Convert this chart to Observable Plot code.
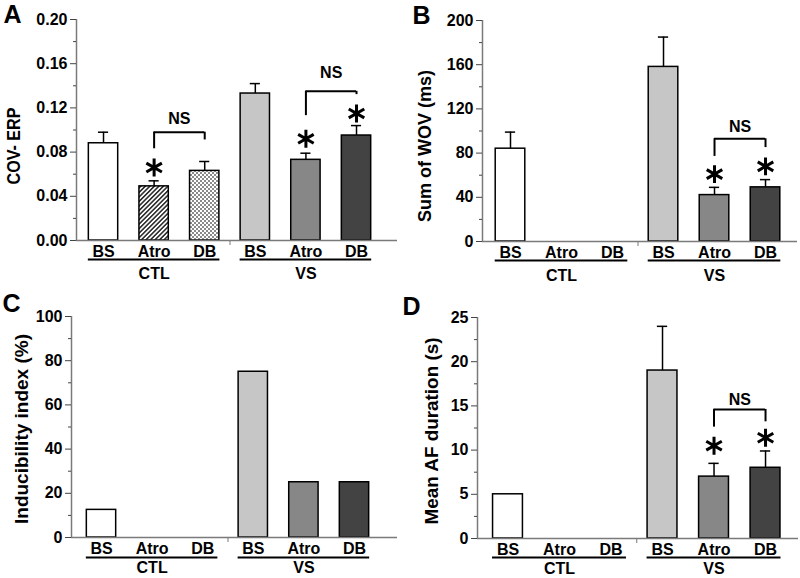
<!DOCTYPE html>
<html>
<head>
<meta charset="utf-8">
<script src="https://cdn.jsdelivr.net/npm/d3@7"></script>
<script src="https://cdn.jsdelivr.net/npm/@observablehq/plot@0.6"></script>
<style>
  html, body { margin: 0; padding: 0; background: white; }
  #chart { position: relative; width: 800px; height: 578px; overflow: hidden; }
  .panel { position: absolute; }
</style>
</head>
<body>
<div id="chart"></div>
<script>
// ---------- data ----------
const conditions = ["BS", "Atro", "DB", "BS", "Atro", "DB"];
const groupNames = ["CTL", "VS"];

const covErpMean = [0.088, 0.049, 0.063, 0.133, 0.073, 0.095];
const covErpSem  = [0.010, 0.005, 0.0085, 0.009, 0.006, 0.009];

const wovMean = [84, null, null, 158, 42, 49];
const wovSem  = [15, null, null, 27, 7, 7];

const inducibility = [12.5, null, null, 75, 25, 25];

const afDurMean = [5, null, null, 19, 7, 8];
const afDurSem  = [null, null, null, 5, 1.5, 1.9];

// significance annotations (value units)
const covErpBrackets = [
  {from: 2, to: 3, top: 0.098, leftEnd: 0.083, rightEnd: 0.091, labelAt: 0.110},
  {from: 5, to: 6, top: 0.135, leftEnd: 0.113, rightEnd: 0.132, labelAt: 0.152}
];
const covErpStars = [{i: 2, at: 0.066}, {i: 5, at: 0.092}, {i: 6, at: 0.115}];

const wovBrackets = [{from: 5, to: 6, top: 93, leftEnd: 77, rightEnd: 85, labelAt: 104}];
const wovStars = [{i: 5, at: 61}, {i: 6, at: 68}];

const afBrackets = [{from: 5, to: 6, top: 14.6, leftEnd: 12.6, rightEnd: 13.2, labelAt: 15.7}];
const afStars = [{i: 5, at: 10.5}, {i: 6, at: 11.4}];

// ---------- styles ----------
const barFills = ["white", "url(#hatchA)", "url(#checkA)", "#c6c6c6", "#878787", "#434343"];
const FONT = "'Liberation Sans', Arial, sans-serif";
const AXIS_GRAY = "#7a7a7a";
const LABEL_SIZE = 16;

function panel(cfg) {
  const hw = 0.29;
  const bars = conditions.map((c, k) => ({i: k + 1, cond: c, v: cfg.values[k], s: cfg.sems ? cfg.sems[k] : null, fill: barFills[k]}))
    .filter(d => d.v != null);
  const errs = bars.filter(d => d.s != null);
  const cats = conditions.map((c, k) => ({i: k + 1, cond: c}));
  const groups = groupNames.map((g, k) => ({name: g, c: 2 + 3 * k}));
  const brackets = cfg.brackets || [];
  const stars = cfg.stars || [];
  const y0 = cfg.yDomain[0];

  const svg = Plot.plot({
    width: 400,
    height: cfg.height,
    marginLeft: cfg.marginLeft,
    marginRight: cfg.marginRight,
    marginTop: cfg.marginTop,
    marginBottom: cfg.marginBottom,
    x: {type: "linear", domain: cfg.xDomain, axis: null},
    y: {domain: cfg.yDomain, axis: null},
    color: {type: "identity"},
    style: {fontFamily: FONT, fontSize: LABEL_SIZE + "px", fontWeight: "bold", color: "black", background: "white", overflow: "visible"},
    marks: [
      // bars
      Plot.rect(bars, {x1: d => d.i - hw, x2: d => d.i + hw, y1: y0, y2: "v", fill: "fill", stroke: "black", strokeWidth: 1.5}),
      // error bars
      Plot.ruleX(errs, {x: "i", y1: "v", y2: d => d.v + d.s, stroke: "black", strokeWidth: 1.5}),
      Plot.ruleY(errs, {y: d => d.v + d.s, x1: d => d.i - 0.1, x2: d => d.i + 0.1, stroke: "black", strokeWidth: 1.5}),
      // axes lines
      Plot.ruleY([y0], {stroke: AXIS_GRAY, strokeWidth: 1.5}),
      Plot.ruleX([cfg.xDomain[0]], {stroke: AXIS_GRAY, strokeWidth: 1.5}),
      Plot.axisY({ticks: cfg.yTicks, tickSize: 6, tickPadding: 3, tickFormat: cfg.tickFormat, label: null, fontSize: LABEL_SIZE, fontWeight: "bold", stroke: "#444"}),
      Plot.axisY({ticks: cfg.yMinor, tickSize: 3, tickFormat: () => "", label: null, stroke: "#444"}),
      Plot.axisX({ticks: [3.5], tickSize: 5, tickFormat: () => "", label: null, stroke: AXIS_GRAY}),
      // category labels
      Plot.text(cats, {x: "i", y: y0, dy: 11, text: "cond", fontSize: LABEL_SIZE, fontWeight: "bold", lineAnchor: "middle"}),
      Plot.ruleY(groups, {y: y0, x1: d => d.c - 1.3, x2: d => d.c + 1.3, dy: cfg.underlineDy, stroke: "black", strokeWidth: 2}),
      Plot.text(groups, {x: "c", y: y0, dy: cfg.groupDy, text: "name", fontSize: LABEL_SIZE, fontWeight: "bold", lineAnchor: "middle"}),
      // brackets
      Plot.ruleY(brackets, {y: "top", x1: "from", x2: "to", stroke: "black", strokeWidth: 2}),
      Plot.ruleX(brackets, {x: "from", y1: "leftEnd", y2: "top", stroke: "black", strokeWidth: 2}),
      Plot.ruleX(brackets, {x: "to", y1: "rightEnd", y2: "top", stroke: "black", strokeWidth: 2}),
      Plot.text(brackets, {x: d => (d.from + d.to) / 2, y: "labelAt", text: () => "NS", fontSize: LABEL_SIZE, fontWeight: "bold"}),
      Plot.dot(stars, {x: "i", y: "at", symbol: "asterisk", r: 8.5, stroke: "black", strokeWidth: 3}),
      // y title
      Plot.text([cfg.title], {frameAnchor: "left", text: d => d, rotate: -90, dx: cfg.titleDx, dy: cfg.titleDy,
        textAnchor: "middle", lineAnchor: "middle", fontSize: 18, fontWeight: "bold"}),
      // panel letter
      Plot.text([cfg.letter], {frameAnchor: "top-left", text: d => d, dx: cfg.letterX - cfg.marginLeft, dy: cfg.letterY - cfg.marginTop,
        textAnchor: "start", lineAnchor: "top", fontSize: 25, fontWeight: "bold"})
    ]
  });

  // stretch the axis title to the length it has in the reference
  d3.select(svg).selectAll("text")
    .filter(function () { return this.textContent === cfg.title; })
    .attr("textLength", cfg.titleLength)
    .attr("lengthAdjust", "spacingAndGlyphs");

  if (cfg.patterns) {
    d3.select(svg).insert("defs", ":first-child").html(`
      <pattern id="hatchA" width="3.2" height="3.2" patternUnits="userSpaceOnUse" patternTransform="rotate(45)">
        <rect width="3.2" height="3.2" fill="white"/>
        <line x1="0.8" y1="0" x2="0.8" y2="3.2" stroke="black" stroke-width="1.3"/>
      </pattern>
      <pattern id="checkA" width="4" height="4" patternUnits="userSpaceOnUse">
        <rect width="4" height="4" fill="white"/>
        <rect width="2" height="2" fill="#8a8a8a"/>
        <rect x="2" y="2" width="2" height="2" fill="#8a8a8a"/>
      </pattern>`);
  }

  const div = document.createElement("div");
  div.className = "panel";
  div.style.left = cfg.left + "px";
  div.style.top = cfg.top + "px";
  div.appendChild(svg);
  document.getElementById("chart").appendChild(div);
}

const range = (a, b, s) => d3.range(a, b + s / 2, s);

panel({
  letter: "A", letterX: 3, letterY: 5, left: 0, top: 0, height: 290,
  marginLeft: 76, marginRight: 3, marginTop: 19, marginBottom: 50,
  underlineDy: 19, groupDy: 33,
  xDomain: [0.466, 6.81], yDomain: [0, 0.2],
  yTicks: range(0, 0.2, 0.04), yMinor: range(0.02, 0.18, 0.04), tickFormat: d3.format(".2f"),
  values: covErpMean, sems: covErpSem, brackets: covErpBrackets, stars: covErpStars,
  title: "COV- ERP", titleLength: 77, titleDx: -62, titleDy: 16, patterns: true
});

panel({
  letter: "B", letterX: 12, letterY: 6, left: 400, top: 0, height: 290,
  marginLeft: 82, marginRight: 3, marginTop: 20, marginBottom: 49,
  underlineDy: 19, groupDy: 34,
  xDomain: [0.451, 6.627], yDomain: [0, 200],
  yTicks: range(0, 200, 40), yMinor: range(20, 180, 40), tickFormat: d3.format("d"),
  values: wovMean, sems: wovSem, brackets: wovBrackets, stars: wovStars,
  title: "Sum of WOV (ms)", titleLength: 152, titleDx: -57, titleDy: 15
});

panel({
  letter: "C", letterX: 2, letterY: 4, left: 0, top: 290, height: 288,
  marginLeft: 71, marginRight: 3, marginTop: 26, marginBottom: 41,
  underlineDy: 20, groupDy: 30,
  xDomain: [0.407, 6.85], yDomain: [0, 100],
  yTicks: range(0, 100, 20), yMinor: range(10, 90, 20), tickFormat: d3.format("d"),
  values: inducibility, sems: null,
  title: "Inducibility index (%)", titleLength: 190, titleDx: -49, titleDy: 2
});

panel({
  letter: "D", letterX: 2, letterY: 7, left: 400, top: 290, height: 288,
  marginLeft: 77, marginRight: 2, marginTop: 27, marginBottom: 40,
  underlineDy: 19, groupDy: 30,
  xDomain: [0.408, 6.64], yDomain: [0, 25],
  yTicks: range(0, 25, 5), yMinor: range(2.5, 22.5, 5), tickFormat: d3.format("d"),
  values: afDurMean, sems: afDurSem, brackets: afBrackets, stars: afStars,
  title: "Mean AF duration (s)", titleLength: 187, titleDx: -45, titleDy: 3
});
</script>
</body>
</html>
